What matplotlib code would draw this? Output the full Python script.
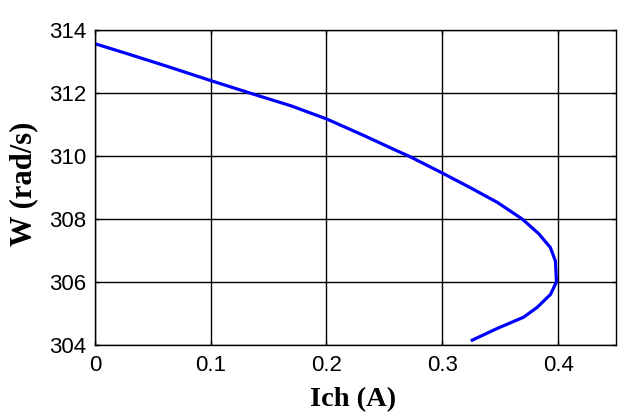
import matplotlib
matplotlib.use("Agg")
import matplotlib.pyplot as plt

ich = [0.0, 0.0307, 0.065, 0.099, 0.134, 0.169, 0.2, 0.2324, 0.2612, 0.271, 0.3,
       0.3244, 0.3474, 0.369, 0.3833, 0.3934, 0.3977, 0.3986, 0.3934, 0.3819,
       0.3703, 0.3474, 0.3259]
w = [313.57, 313.22, 312.82, 312.41, 312.0, 311.6, 311.18, 310.65, 310.16, 310.0, 309.46,
     308.99, 308.53, 308.0, 307.53, 307.09, 306.66, 306.0, 305.6, 305.19,
     304.88, 304.52, 304.15]

xticks = [0, 0.1, 0.2, 0.3, 0.4]
xtick_labels = ["0", "0.1", "0.2", "0.3", "0.4"]
yticks = [304, 306, 308, 310, 312, 314]

fig = plt.figure(figsize=(6.37, 4.19), dpi=100)
ax = fig.add_axes([0.149, 0.177, 0.818, 0.751])
ax.plot(ich, w, color="#0000ff", linewidth=2.3, solid_joinstyle="round")
ax.set_xlim(0, 0.45)
ax.set_ylim(304, 314)
ax.set_xticks(xticks)
ax.set_xticklabels(xtick_labels)
ax.set_yticks(yticks)
ax.grid(True, color="black", linewidth=1, linestyle="-")
ax.tick_params(direction="in", length=3, width=1, top=True, right=True,
               labelsize=16)
ax.tick_params(axis="y", pad=6)
ax.tick_params(axis="x", pad=7)
for lab in ax.get_xticklabels() + ax.get_yticklabels():
    lab.set_family("Liberation Sans")
for s in ax.spines.values():
    s.set_linewidth(1)
ax.set_xlabel("Ich (A)", family="Liberation Serif", fontweight="bold", fontsize=20.5)
ax.set_ylabel("W (rad/s)", family="Liberation Serif", fontweight="bold", fontsize=22)
ax.xaxis.label.set_va("center")
ax.yaxis.label.set_va("center")
ax.xaxis.set_label_coords(0.496, -0.175)
ax.yaxis.set_label_coords(-0.136, 0.513)
fig.savefig("out.png", dpi=100)
